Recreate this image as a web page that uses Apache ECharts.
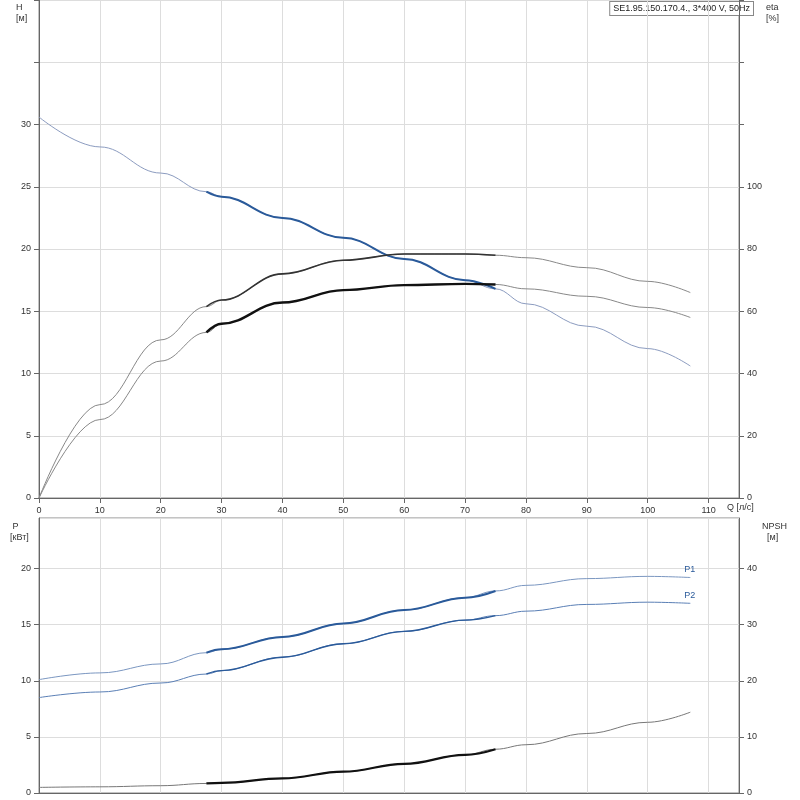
<!DOCTYPE html><html><head><meta charset="utf-8"><script src="https://cdn.jsdelivr.net/npm/echarts@6/dist/echarts.min.js"></script>
<style>body{margin:0}#c{width:800px;height:800px}</style></head><body><div id="c"></div><script>
const Q=[0,10,20,27.5,30,40,50,60,70,75,80,90,100,107];
const H=[30.6,28.2,26.1,24.6,24.2,22.5,20.9,19.2,17.5,16.8,15.6,13.8,12.0,10.6];
const eta1=[0,30,50.8,61.5,63.6,72,76.4,78.4,78.4,78,77.2,74,69.6,66];
const eta2=[0,25.2,44,53.2,56,62.8,66.8,68.4,68.8,68.6,67.2,64.8,61.2,58];
const P1=[10.1,10.7,11.5,12.5,12.8,13.9,15.1,16.3,17.4,18.0,18.5,19.1,19.3,19.2];
const P2=[8.5,9.0,9.8,10.6,10.9,12.1,13.3,14.4,15.4,15.8,16.2,16.8,17.0,16.9];
const NPSH=[1,1.1,1.3,1.7,1.8,2.6,3.8,5.2,6.8,7.8,8.6,10.6,12.6,14.4];
const Q0=27.5,Q1=75;
const pts=a=>Q.map((q,i)=>[q,a[i]]);
const bold=a=>Q.map((q,i)=>[q,a[i]]).filter(p=>p[0]>=Q0&&p[0]<=Q1);
const ax={fontSize:9,color:'#333',fontFamily:'Liberation Sans'};
const gl={show:true,lineStyle:{color:'#ddd'}};
function ln(name,x,y,data,color,w,label){return {type:'line',name,xAxisIndex:x,yAxisIndex:y,data,smooth:0.4,smoothMonotone:'x',showSymbol:false,symbol:'none',lineStyle:{color,width:w},endLabel:label?{show:true,formatter:label,color:'#2a5a9a',fontSize:9,offset:[-14,-8]}:undefined,z:w>1?5:3};}
const opt={animation:false,
grid:[{left:39,right:61,top:0,height:498,show:true,borderColor:'#888',backgroundColor:'#fff'},{left:39,right:61,top:518,bottom:7,show:true,borderColor:'#888'}],
xAxis:[{gridIndex:0,type:'value',min:0,max:115,interval:10,axisLabel:{...ax,showMaxLabel:false},splitLine:gl,axisLine:{lineStyle:{color:'#666'}},axisTick:{show:true}},
{gridIndex:1,type:'value',min:0,max:115,interval:10,axisLabel:{show:false},splitLine:gl,axisLine:{lineStyle:{color:'#666'}},axisTick:{show:false}}],
yAxis:[{gridIndex:0,min:0,max:40,interval:5,axisLabel:{...ax,formatter:v=>v<=30?v:''},splitLine:gl,axisLine:{show:true,lineStyle:{color:'#666'}},axisTick:{show:true}},
{gridIndex:0,position:'right',min:0,max:160,interval:20,axisLabel:{...ax,formatter:v=>v<=100?v:''},splitLine:{show:false},axisLine:{show:true,lineStyle:{color:'#666'}},axisTick:{show:true}},
{gridIndex:1,min:0,max:24.5,interval:5,axisLabel:{...ax,showMaxLabel:false},splitLine:gl,axisLine:{show:true,lineStyle:{color:'#666'}},axisTick:{show:true}},
{gridIndex:1,position:'right',min:0,max:49,interval:10,axisLabel:{...ax,showMaxLabel:false},splitLine:{show:false},axisLine:{show:true,lineStyle:{color:'#666'}},axisTick:{show:true}}],
series:[ln('H',0,0,pts(H),'#8c9cc0',1),ln('Hb',0,0,bold(H),'#2a5a9a',2),
ln('e1',0,1,pts(eta1),'#888',1),ln('e1b',0,1,bold(eta1),'#333',1.6),
ln('e2',0,1,pts(eta2),'#888',1),ln('e2b',0,1,bold(eta2),'#111',2.4),
ln('P1',1,2,pts(P1),'#7a96c0',1,'P1'),ln('P1b',1,2,bold(P1),'#2a5a9a',2),
ln('P2',1,2,pts(P2),'#5a7fb5',1,'P2'),ln('P2b',1,2,bold(P2),'#2a5a9a',1.4),
ln('N',1,3,pts(NPSH),'#777',1),ln('Nb',1,3,bold(NPSH),'#111',2.2)],
graphic:[
{type:'text',left:16,top:2,style:{text:'H\n[м]',fill:'#333',font:'9px Liberation Sans',align:'center',lineHeight:11}},
{type:'text',left:766,top:2,style:{text:'eta\n[%]',fill:'#333',font:'9px Liberation Sans',align:'center',lineHeight:11}},
{type:'text',left:10,top:521,style:{text:' P\n[кВт]',fill:'#333',font:'9px Liberation Sans',lineHeight:11}},
{type:'text',left:762,top:521,style:{text:'NPSH\n  [м]',fill:'#333',font:'9px Liberation Sans',lineHeight:11}},
{type:'text',left:727,top:503,style:{text:'Q [л/с]',fill:'#333',font:'9px Liberation Sans'}},
{type:'text',right:46,top:1,style:{text:'SE1.95.150.170.4., 3*400 V, 50Hz',fill:'#222',font:'9px Liberation Sans',backgroundColor:'#fff',borderColor:'#888',borderWidth:1,padding:[2,3]}}
]};
echarts.init(document.getElementById('c')).setOption(opt);
</script></body></html>
